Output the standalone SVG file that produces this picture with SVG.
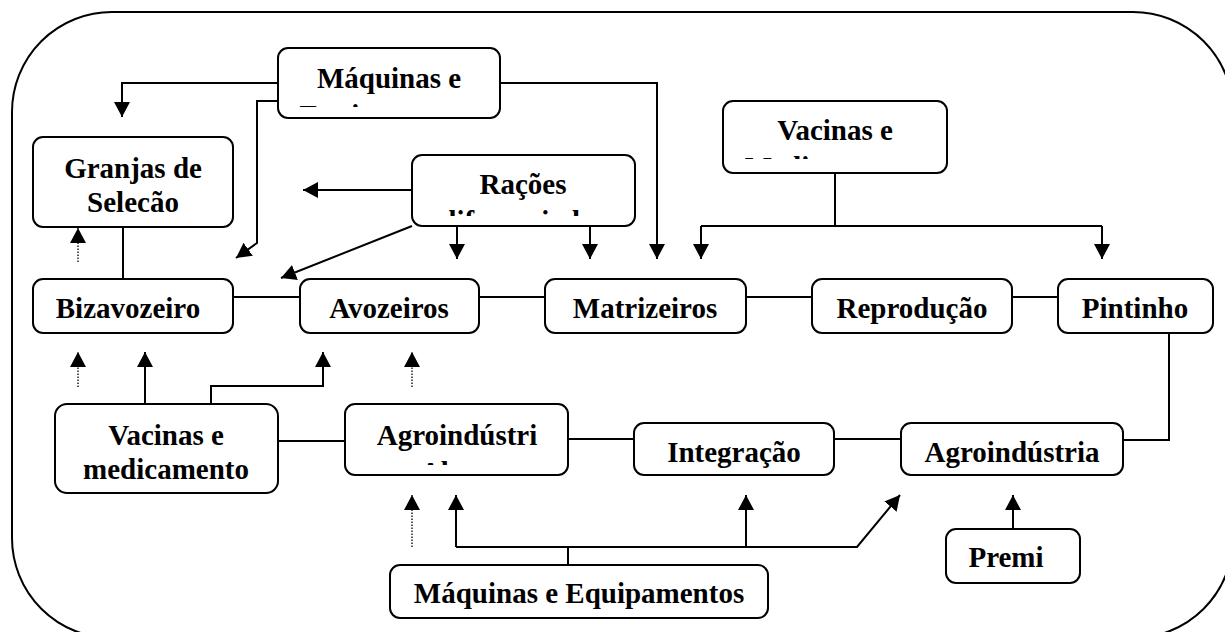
<svg xmlns="http://www.w3.org/2000/svg" width="1225" height="632" viewBox="0 0 1225 632">
<style>
.box{fill:#fff;stroke:#000;stroke-width:2}
.ln{fill:none;stroke:#000;stroke-width:2}
.dot{fill:none;stroke:#000;stroke-width:1.3;stroke-dasharray:1.5 1.5}
.t{font-family:"Liberation Serif","Times New Roman",serif;font-weight:bold;font-size:29px;fill:#000;text-anchor:middle}
</style>
<defs>
<marker id="ah" markerUnits="userSpaceOnUse" markerWidth="16" markerHeight="16" viewBox="0 0 16 16" refX="15" refY="8" orient="auto">
<path d="M0,0 L15,8 L0,16 Z" fill="#000"/>
</marker>
<clipPath id="c1"><rect x="280" y="50" width="218" height="57"/></clipPath>
<clipPath id="c2"><rect x="414" y="157" width="219" height="59"/></clipPath>
<clipPath id="c3"><rect x="725" y="103" width="220" height="56"/></clipPath>
<clipPath id="c4"><rect x="347" y="406" width="219" height="59"/></clipPath>
</defs>
<rect x="12" y="12" width="1221" height="626" rx="100" ry="100" fill="none" stroke="#000" stroke-width="2"/>
<g id="connectors">
<path class="ln" d="M278,83 H122 V117" marker-end="url(#ah)"/>
<path class="ln" d="M278,101 H257 V243 L236,258" marker-end="url(#ah)"/>
<path class="ln" d="M500,83 H657 V259" marker-end="url(#ah)"/>
<path class="ln" d="M412,190 H303" marker-end="url(#ah)"/>
<path class="ln" d="M412,226 L281,278" marker-end="url(#ah)"/>
<path class="ln" d="M457,226 V259" marker-end="url(#ah)"/>
<path class="ln" d="M590,226 V259" marker-end="url(#ah)"/>
<path class="ln" d="M835,173 V226"/>
<path class="ln" d="M701,226 H1102"/>
<path class="ln" d="M701,226 V259" marker-end="url(#ah)"/>
<path class="ln" d="M1102,226 V259" marker-end="url(#ah)"/>
<path class="dot" d="M78,262 V228" marker-end="url(#ah)"/>
<path class="ln" d="M123,227 V279"/>
<path class="ln" d="M233,297 H300 M479,297 H545 M746,297 H812 M1012,297 H1058"/>
<path class="dot" d="M78,387 V352" marker-end="url(#ah)"/>
<path class="ln" d="M145,404 V352" marker-end="url(#ah)"/>
<path class="ln" d="M211,404 V386 H323 V352" marker-end="url(#ah)"/>
<path class="dot" d="M412,387 V352" marker-end="url(#ah)"/>
<path class="ln" d="M278,441 H345 M568,439 H634 M834,439 H901"/>
<path class="ln" d="M1169,333 V440 H1123"/>
<path class="dot" d="M412,547 V495" marker-end="url(#ah)"/>
<path class="ln" d="M568,565 V547"/>
<path class="ln" d="M456,547 H857 L900,495" marker-end="url(#ah)"/>
<path class="ln" d="M456,547 V495" marker-end="url(#ah)"/>
<path class="ln" d="M746,547 V495" marker-end="url(#ah)"/>
<path class="ln" d="M1013,529 V495" marker-end="url(#ah)"/>
</g>
<g id="maquinas-top">
<rect class="box" x="278" y="48" width="222" height="70" rx="10"/>
<g clip-path="url(#c1)"><text class="t" x="389" y="88">Máquinas e</text><text class="t" x="389" y="125">Equipamentos</text></g>
</g>
<g id="granjas">
<rect class="box" x="33" y="137" width="200" height="90" rx="10"/>
<text class="t" x="133" y="178">Granjas de</text>
<text class="t" x="133" y="212">Selecão</text>
</g>
<g id="racoes">
<rect class="box" x="412" y="155" width="223" height="71" rx="10"/>
<g clip-path="url(#c2)"><text class="t" x="523" y="194">Rações</text><text class="t" x="523" y="231">diferenciadas</text></g>
</g>
<g id="vacinas-top">
<rect class="box" x="723" y="101" width="224" height="72" rx="10"/>
<g clip-path="url(#c3)"><text class="t" x="835" y="140">Vacinas e</text><text class="t" x="835" y="177">Medicamentos</text></g>
</g>
<g id="bizavozeiro">
<rect class="box" x="33" y="279" width="200" height="54" rx="10"/>
<text class="t" x="128" y="318">Bizavozeiro</text>
</g>
<g id="avozeiros">
<rect class="box" x="300" y="279" width="179" height="54" rx="10"/>
<text class="t" x="389" y="318">Avozeiros</text>
</g>
<g id="matrizeiros">
<rect class="box" x="545" y="279" width="201" height="54" rx="10"/>
<text class="t" x="645" y="318">Matrizeiros</text>
</g>
<g id="reproducao">
<rect class="box" x="812" y="279" width="200" height="54" rx="10"/>
<text class="t" x="912" y="318">Reprodução</text>
</g>
<g id="pintinho">
<rect class="box" x="1058" y="279" width="155" height="54" rx="10"/>
<text class="t" x="1135" y="318">Pintinho</text>
</g>
<g id="vacinas-bottom">
<rect class="box" x="55" y="404" width="223" height="89" rx="12"/>
<text class="t" x="166" y="445">Vacinas e</text>
<text class="t" x="166" y="479">medicamento</text>
</g>
<g id="agroindustri">
<rect class="box" x="345" y="404" width="223" height="71" rx="10"/>
<g clip-path="url(#c4)"><text class="t" x="457" y="445">Agroindústri</text><text class="t" x="457" y="482">Abate</text></g>
</g>
<g id="integracao">
<rect class="box" x="634" y="423" width="200" height="52" rx="10"/>
<text class="t" x="734" y="462">Integração</text>
</g>
<g id="agroindustria">
<rect class="box" x="901" y="423" width="222" height="52" rx="10"/>
<text class="t" x="1012" y="462">Agroindústria</text>
</g>
<g id="premi">
<rect class="box" x="946" y="529" width="134" height="54" rx="10"/>
<text class="t" x="1006" y="567">Premi</text>
</g>
<g id="maquinas-bottom">
<rect class="box" x="390" y="565" width="378" height="53" rx="10"/>
<text class="t" x="579" y="603">Máquinas e Equipamentos</text>
</g>
</svg>
